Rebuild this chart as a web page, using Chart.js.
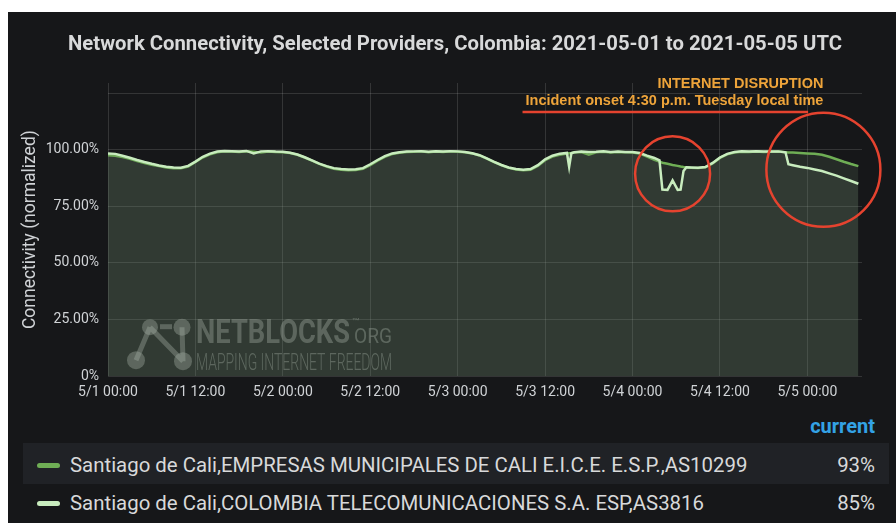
<!DOCTYPE html>
<html>
<head>
<meta charset="utf-8">
<script src="https://cdn.jsdelivr.net/npm/chart.js@4.4.1/dist/chart.umd.min.js"></script>
<style>
  body { margin: 0; background: #fff; width: 896px; height: 523px; overflow: hidden; font-family: Roboto, sans-serif; }
  #panel { position: absolute; left: 8px; top: 12px; width: 888px; height: 511px; background: #161719; overflow: hidden; }
  #chart { position: absolute; left: 0; top: 0; }
  .title { position: absolute; left: 0; top: 19px; width: 894px; text-align: center; line-height: 24px;
           font-size: 20.3px; font-weight: bold; color: #d8d9da; white-space: nowrap; }
  .cur { position: absolute; right: 21px; top: 402px; line-height: 24px; color: #33a2e5; font-size: 20px; font-weight: bold; }
  .row { position: absolute; left: 15px; width: 866px; height: 41px; }
  .row1 { top: 431px; background: #202226; }
  .row2 { top: 472px; }
  .sw { position: absolute; left: 14px; width: 23px; height: 5px; border-radius: 3px; }
  .name, .val { position: absolute; line-height: 40px; font-size: 20.4px; color: #d8d9da; white-space: nowrap; }
  .name { left: 47px; }
  .val { right: 14px; }
</style>
</head>
<body>
<div id="panel">
  <canvas id="chart" width="888" height="400"></canvas>
  <div class="title">Network Connectivity, Selected Providers, Colombia: 2021-05-01 to 2021-05-05 UTC</div>
  <div class="cur">current</div>
  <div class="row row1">
    <div class="sw" style="top:19.5px;background:#6fae55"></div>
    <div class="name" style="top:2px">Santiago de Cali,EMPRESAS MUNICIPALES DE CALI E.I.C.E. E.S.P.,AS10299</div>
    <div class="val" style="top:2px">93%</div>
  </div>
  <div class="row row2">
    <div class="sw" style="top:16.5px;background:#c8ecbe"></div>
    <div class="name" style="top:-1px">Santiago de Cali,COLOMBIA TELECOMUNICACIONES S.A. ESP,AS3816</div>
    <div class="val" style="top:-1px">85%</div>
  </div>
</div>
<script>
// hours since 2021-05-01 00:00 UTC
const hours = [
  0, 1, 2, 3, 4, 5, 6, 7, 8, 9, 10, 11,
  12, 13, 14, 15, 16, 17, 18, 19, 20, 21, 22, 23,
  24, 25, 26, 27, 28, 29, 30, 31, 32, 33, 34, 35,
  36, 37, 38, 39, 40, 41, 42, 43, 44, 45, 46, 47,
  48, 49, 50, 51, 52, 53, 54, 55, 56, 57, 58, 59,
  60, 61, 62, 63, 63.3, 63.6, 64, 65, 66, 67, 68, 69,
  70, 71, 72, 73, 74, 75, 75.7, 76.1, 76.8, 77.5, 78.2, 78.6,
  79, 79.4, 80, 81, 82, 83, 84, 85, 86, 87, 88, 89,
  90, 91, 92, 93, 93.4, 94, 95, 96, 97, 98, 99, 100,
  101, 102, 103
];
// EMPRESAS MUNICIPALES DE CALI, AS10299
const emcali = [
  97.6, 97.4, 96.8, 96.0, 95.0, 94.2, 93.4, 92.8, 92.2, 91.9, 91.8, 92.6,
  94.6, 96.6, 98.0, 98.9, 99.3, 99.2, 99.0, 99.3, 99.1, 98.8, 99.2, 99.0,
  98.9, 98.6, 97.8, 96.6, 95.2, 93.8, 92.6, 91.6, 91.2, 91.0, 91.1, 91.6,
  93.2, 95.2, 96.9, 98.1, 98.7, 99.0, 99.1, 99.3, 98.9, 99.2, 99.0, 99.3,
  99.1, 98.9, 98.4, 97.5, 96.1, 94.6, 93.2, 92.0, 91.3, 91.0, 91.2, 92.9,
  95.4, 97.0, 97.8, 98.4, 98.5, 98.6, 98.8, 99.0, 97.8, 98.9, 99.1, 98.8,
  99.0, 98.9, 98.8, 98.3, 97.0, 95.6, 94.8, 94.3, 93.8, 93.3, 92.9, 92.6,
  92.4, 92.3, 92.1, 92.0, 92.3, 94.0, 96.4, 98.0, 98.8, 99.1, 99.0, 99.2,
  99.0, 99.1, 99.2, 98.9, 98.8, 98.8, 98.6, 98.4, 98.2, 97.8, 96.9, 95.8,
  94.7, 93.7, 92.8
];
// COLOMBIA TELECOMUNICACIONES, AS3816
const colTel = [
  98.4, 98.2, 97.4, 96.5, 95.5, 94.6, 93.8, 93.1, 92.5, 92.2, 92.1, 92.9,
  94.8, 96.9, 98.3, 99.2, 99.5, 99.4, 99.3, 99.5, 98.4, 99.3, 99.4, 99.2,
  99.1, 98.7, 97.9, 96.7, 95.3, 93.9, 92.8, 91.9, 91.5, 91.3, 91.4, 91.9,
  93.6, 95.5, 97.2, 98.4, 98.9, 99.2, 99.3, 99.4, 99.1, 99.3, 99.2, 99.4,
  99.3, 99.0, 98.5, 97.6, 96.2, 94.7, 93.3, 92.2, 91.5, 91.2, 91.5, 93.2,
  95.8, 97.4, 98.3, 98.6, 92.5, 98.5, 98.9, 99.2, 99.0, 99.1, 99.3, 99.0,
  99.2, 99.0, 99.0, 98.6, 97.4, 96.4, 95.3, 82.4, 82.3, 86.5, 82.3, 82.4,
  90.6, 92.3, 92.2, 92.1, 92.4, 94.2, 96.6, 98.2, 99.0, 99.3, 99.2, 99.4,
  99.2, 99.3, 99.3, 98.9, 93.6, 93.2, 92.5, 92.0, 91.3, 90.6, 89.6, 88.6,
  87.4, 86.2, 85.0
];
const tickHours = [0, 12, 24, 36, 48, 60, 72, 84, 96];
const tickLabels = ['5/1 00:00', '5/1 12:00', '5/2 00:00', '5/2 12:00', '5/3 00:00',
                    '5/3 12:00', '5/4 00:00', '5/4 12:00', '5/5 00:00'];
const yTickValues = [0, 25, 50, 75, 100, 125];
const yTickLabels = ['0%', '25.00%', '50.00%', '75.00%', '100.00%', ''];

const textColor = '#d0d3d6';
const gridColor = 'rgba(255,255,255,0.13)';
const fillColor = 'rgba(110,140,110,0.17)';
const red = '#e5432f';

const toPoints = vals => vals.map((v, i) => ({ x: hours[i], y: v }));

function fitText(c, text, x, y, w, font) {
  c.font = font;
  const m = c.measureText(text).width;
  c.save();
  c.translate(x, y);
  c.scale(w / m, 1);
  c.fillText(text, 0, 0);
  c.restore();
}

const overlay = {
  id: 'overlay',
  afterDatasetsDraw(chart) {
    // watermark
    const c = chart.ctx, L = chart.chartArea.left, B = chart.chartArea.bottom;
    const col = 'rgba(165,175,165,0.38)';
    c.save();
    c.fillStyle = col;
    c.strokeStyle = col;
    c.lineWidth = 5;
    c.beginPath();
    c.moveTo(L + 42, B - 49); c.lineTo(L + 28, B - 16);
    c.moveTo(L + 42, B - 49); c.lineTo(L + 75, B - 15);
    c.moveTo(L + 74, B - 49); c.lineTo(L + 75, B - 15);
    c.stroke();
    c.fillRect(L + 52, B - 52, 12, 5);
    [[42, -49, 8], [74, -49, 8.5], [28, -16, 9], [75, -15, 9]].forEach(([dx, dy, r]) => {
      c.beginPath(); c.arc(L + dx, B + dy, r, 0, Math.PI * 2); c.fill();
    });
    c.textBaseline = 'alphabetic';
    c.textAlign = 'left';
    fitText(c, 'NETBLOCKS', L + 88, B - 33, 154, 'bold 34px Roboto');
    fitText(c, 'ORG', L + 246, B - 33, 38, '21px Roboto');
    fitText(c, '™', L + 244, B - 52, 8, '8px Roboto');
    fitText(c, 'MAPPING INTERNET FREEDOM', L + 88, B - 6, 196, '300 23px Roboto');
    c.restore();
  },
  afterDraw(chart) {
    const c = chart.ctx, x = chart.scales.x, y = chart.scales.y, top = chart.chartArea.top;
    c.save();
    c.fillStyle = '#eea43a';
    c.font = 'bold 14.5px "Liberation Sans", Arial, sans-serif';
    c.textAlign = 'right';
    c.textBaseline = 'middle';
    const tx = x.getPixelForValue(98.2);
    c.fillText('INTERNET DISRUPTION', tx, top + 1);
    c.fillText('Incident onset 4:30 p.m. Tuesday local time', tx, top + 18);
    c.strokeStyle = red;
    c.lineWidth = 2.5;
    c.beginPath();
    c.moveTo(x.getPixelForValue(56.9), top + 29);
    c.lineTo(x.getPixelForValue(96.1), top + 29);
    c.stroke();
    c.beginPath();
    c.arc(x.getPixelForValue(77.5), y.getPixelForValue(89.4), 37.5, 0, Math.PI * 2);
    c.stroke();
    c.beginPath();
    c.arc(x.getPixelForValue(98.2), y.getPixelForValue(91.2), 57, 0, Math.PI * 2);
    c.stroke();
    c.restore();
  }
};

new Chart(document.getElementById('chart'), {
  type: 'line',
  data: {
    datasets: [{
      label: 'Santiago de Cali,COLOMBIA TELECOMUNICACIONES S.A. ESP,AS3816',
      data: toPoints(colTel),
      borderColor: '#c8ecbe',
      backgroundColor: fillColor,
      fill: 'origin',
      order: 0
    }, {
      label: 'Santiago de Cali,EMPRESAS MUNICIPALES DE CALI E.I.C.E. E.S.P.,AS10299',
      data: toPoints(emcali),
      borderColor: '#6fae55',
      backgroundColor: fillColor,
      fill: 'origin',
      order: 1
    }]
  },
  options: {
    responsive: false,
    animation: false,
    elements: {
      point: { radius: 0 },
      line: { borderWidth: 2.5, tension: 0 }
    },
    layout: { padding: { left: 0, right: 34, top: 71, bottom: 3 } },
    plugins: {
      legend: { display: false },
      tooltip: { enabled: false }
    },
    scales: {
      x: {
        type: 'linear',
        min: 0,
        max: 103.5,
        afterBuildTicks: s => { s.ticks = tickHours.map(v => ({ value: v })); },
        ticks: {
          callback: v => tickLabels[tickHours.indexOf(v)],
          color: textColor,
          font: { family: 'Roboto', size: 14 },
          padding: 8,
          maxRotation: 0,
          autoSkip: false
        },
        grid: { color: gridColor, drawTicks: false },
        border: { display: false }
      },
      y: {
        min: 0,
        max: 129.5,
        afterBuildTicks: s => { s.ticks = yTickValues.map(v => ({ value: v })); },
        afterFit: s => { s.width = 100; },
        ticks: {
          callback: v => yTickLabels[yTickValues.indexOf(v)],
          color: textColor,
          font: { family: 'Roboto', size: 14 },
          padding: 9
        },
        grid: { color: gridColor, drawTicks: false },
        border: { display: false },
        title: {
          display: true,
          text: 'Connectivity (normalized)',
          color: textColor,
          font: { family: 'Roboto', size: 17.5 },
          padding: { top: 12, bottom: 0 }
        }
      }
    }
  },
  plugins: [overlay]
});
</script>
</body>
</html>
